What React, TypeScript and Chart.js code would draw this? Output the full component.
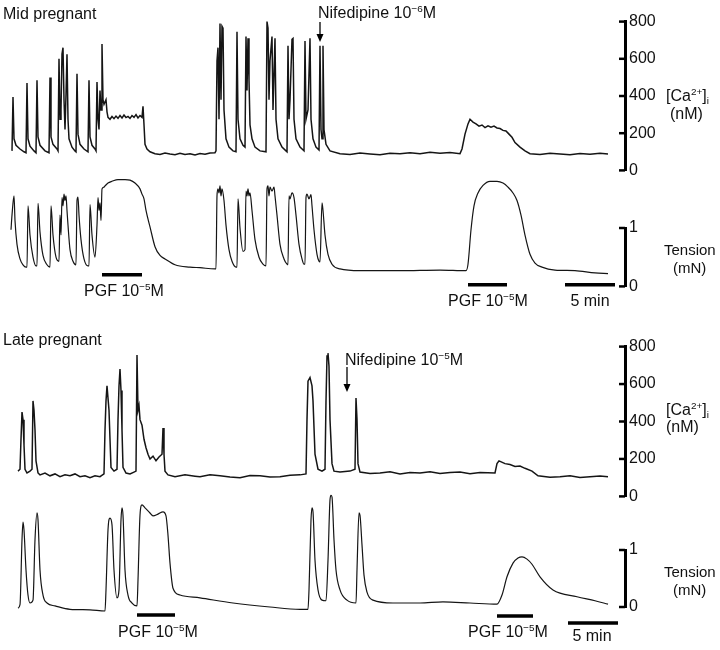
import React, { useEffect, useRef } from "react";
import { Chart, registerables } from "chart.js";

Chart.register(...registerables);

type P = [number, number];

// ---- Mid pregnant: [Ca2+]i (nM) vs time (min)
const midCa: P[] = [
  [0.2, 105], [0.3, 395], [0.4, 170], [0.6, 135], [1.0, 115], [1.4, 100], [1.6, 95],
  [1.7, 470], [1.8, 170], [2.0, 130], [2.4, 105], [2.6, 95],
  [2.7, 485], [2.8, 180], [3.0, 135], [3.5, 105], [3.9, 95],
  [4.0, 500], [4.1, 180], [4.3, 140], [4.7, 115], [4.8, 105],
  [4.9, 600], [5.0, 275], [5.1, 325], [5.2, 625], [5.3, 660], [5.4, 380], [5.5, 220], [5.6, 405], [5.7, 625], [5.8, 275], [5.9, 170], [6.2, 125], [6.5, 105], [6.6, 100],
  [6.7, 520], [6.8, 195], [7.0, 140], [7.4, 115], [7.8, 100],
  [7.9, 485], [8.0, 180], [8.2, 135], [8.5, 115], [8.6, 105],
  [8.7, 475], [8.8, 275], [8.9, 220], [9.0, 430], [9.1, 325], [9.2, 680], [9.3, 380], [9.4, 355], [9.6, 380], [9.7, 315],
  [9.8, 285], [10.0, 275], [10.2, 290], [10.4, 278], [10.6, 292], [10.8, 280], [11.0, 295], [11.2, 282], [11.4, 298], [11.6, 284],
  [11.8, 290], [12.0, 280], [12.2, 295], [12.4, 285], [12.6, 300], [12.8, 282], [13.0, 295], [13.2, 285], [13.3, 345], [13.4, 245],
  [13.5, 140], [13.7, 115], [14.0, 100], [14.5, 90], [15.0, 85], [15.5, 93], [16.0, 88], [16.5, 84], [17.0, 92], [17.5, 86],
  [18.0, 90], [18.5, 83], [19.0, 91], [19.5, 87], [20.0, 94], [20.5, 95],
  [20.6, 105], [20.7, 590], [20.8, 660], [20.9, 275], [21.0, 790], [21.1, 380], [21.2, 775], [21.3, 765], [21.4, 325], [21.6, 170], [21.9, 125], [22.3, 105], [22.6, 100],
  [22.7, 745], [22.8, 275], [23.0, 170], [23.3, 135], [23.5, 125], [23.6, 720], [23.7, 430], [23.8, 710], [23.9, 485], [24.0, 245], [24.2, 170], [24.5, 125], [25.0, 105], [25.6, 100],
  [25.7, 800], [25.8, 765], [25.9, 380], [26.0, 590], [26.2, 720], [26.3, 325], [26.5, 710], [26.6, 275], [26.8, 170], [27.2, 125], [27.6, 105], [27.7, 100],
  [27.8, 670], [27.9, 275], [28.0, 380], [28.2, 705], [28.3, 710], [28.4, 275], [28.6, 170], [29.0, 125], [29.4, 105],
  [29.5, 695], [29.6, 275], [29.8, 325], [30.0, 710], [30.1, 275], [30.3, 170], [30.6, 125], [30.9, 110],
  [31.0, 670], [31.1, 220], [31.2, 170], [31.3, 670], [31.4, 220], [31.6, 140], [32.0, 105],
  [33.0, 90], [34.0, 86], [35.0, 93], [36.0, 88], [37.0, 84], [38.0, 92], [39.0, 89], [40.0, 95], [41.0, 90], [42.0, 97],
  [43.0, 92], [44.0, 96], [45.0, 90], [45.2, 115], [45.5, 195], [45.8, 250], [46.0, 275], [46.3, 260], [46.6, 250],
  [46.9, 238], [47.2, 244], [47.5, 230], [47.8, 240], [48.1, 232], [48.4, 238], [48.7, 228], [49.0, 225], [49.3, 215],
  [49.6, 212], [49.9, 195], [50.2, 178], [50.5, 150], [51.0, 125], [51.5, 105], [52.0, 90], [53.0, 85], [54.0, 92],
  [55.0, 88], [56.0, 84], [57.0, 91], [58.0, 87], [59.0, 92], [59.8, 88],
];

// ---- Mid pregnant: tension (mN) vs time (min)
const midTension: P[] = [
  [0.1, 0.97], [0.2, 1.22], [0.4, 1.55], [0.5, 1.13], [0.7, 0.72], [1.0, 0.47], [1.3, 0.37], [1.6, 0.33],
  [1.7, 0.33], [1.8, 1.38], [2.0, 0.88], [2.3, 0.5], [2.6, 0.35],
  [2.7, 0.35], [2.8, 1.42], [3.0, 0.93], [3.3, 0.53], [3.7, 0.37], [4.0, 0.33],
  [4.1, 1.38], [4.3, 0.88], [4.6, 0.5], [4.9, 0.43], [5.0, 1.22], [5.1, 0.88], [5.2, 1.52], [5.3, 1.38], [5.4, 1.58],
  [5.5, 1.47], [5.6, 1.55], [5.7, 1.3], [5.8, 1.05], [6.0, 0.63], [6.3, 0.43], [6.6, 0.37],
  [6.7, 1.47], [6.8, 1.53], [6.9, 1.22], [7.1, 0.8], [7.4, 0.47], [7.8, 0.35],
  [7.9, 0.35], [8.0, 1.4], [8.2, 0.88], [8.5, 0.5], [8.7, 1.05], [8.8, 1.52], [8.9, 1.3], [9.0, 1.43], [9.1, 1.13],
  [9.2, 1.67], [9.4, 1.7], [9.5, 1.72], [9.8, 1.77], [10.2, 1.8], [10.8, 1.83], [11.5, 1.83], [12.0, 1.82], [12.5, 1.77],
  [13.0, 1.67], [13.2, 1.58], [13.4, 1.5], [13.6, 1.3], [14.0, 1.02], [14.5, 0.68], [15.0, 0.53], [15.5, 0.47],
  [16.5, 0.37], [18.0, 0.33], [19.0, 0.32], [20.5, 0.3],
  [20.6, 0.3], [20.7, 1.55], [20.8, 1.67], [20.9, 1.6], [21.0, 1.72], [21.1, 1.55], [21.2, 1.67], [21.4, 1.47],
  [21.6, 1.05], [21.9, 0.63], [22.2, 0.43], [22.6, 0.33],
  [22.7, 0.33], [22.8, 1.5], [23.0, 1.0], [23.3, 0.6], [23.5, 0.63], [23.6, 1.63], [23.7, 1.55], [23.8, 1.67], [23.9, 1.55],
  [24.0, 1.6], [24.2, 1.3], [24.5, 0.8], [24.9, 0.5], [25.3, 0.38], [25.6, 0.35],
  [25.7, 1.67], [25.8, 1.72], [25.9, 1.55], [26.0, 1.7], [26.2, 1.63], [26.4, 1.7], [26.5, 1.55], [26.7, 1.22],
  [27.0, 0.72], [27.4, 0.47], [27.7, 0.38],
  [27.8, 0.37], [27.9, 1.55], [28.0, 1.5], [28.2, 1.6], [28.4, 1.52], [28.6, 1.22], [28.9, 0.72], [29.2, 0.47], [29.4, 0.38],
  [29.5, 0.38], [29.6, 1.52], [29.7, 1.58], [29.9, 1.5], [30.1, 1.57], [30.2, 1.38], [30.4, 0.97], [30.7, 0.55], [30.9, 0.43],
  [31.0, 0.42], [31.2, 1.43], [31.3, 1.3], [31.5, 0.88], [31.8, 0.55], [32.2, 0.38], [33.0, 0.3],
  [35.0, 0.27], [39.0, 0.27], [43.0, 0.28], [45.6, 0.27],
  [45.8, 0.38], [46.1, 0.97], [46.4, 1.38], [46.8, 1.6], [47.3, 1.73], [48.0, 1.8], [48.7, 1.8], [49.3, 1.77], [49.8, 1.7],
  [50.3, 1.6], [50.7, 1.47], [51.1, 1.22], [51.5, 0.88], [52.0, 0.55], [52.5, 0.4], [53.2, 0.33], [54.5, 0.28],
  [56.5, 0.27], [58.5, 0.23], [59.8, 0.22],
];

// ---- Late pregnant: [Ca2+]i (nM) vs time (min)
const lateCa: P[] = [
  [0.8, 135], [1.0, 145], [1.1, 305], [1.2, 450], [1.3, 410], [1.4, 275], [1.5, 145], [1.7, 125], [2.0, 135], [2.2, 145],
  [2.3, 510], [2.4, 460], [2.5, 355], [2.6, 190], [2.8, 125], [3.0, 115], [3.5, 125], [4.0, 110], [4.5, 120], [5.0, 105],
  [5.5, 115], [6.0, 110], [6.5, 120], [7.0, 105], [7.5, 110], [8.0, 100], [8.5, 110], [9.0, 105], [9.4, 120],
  [9.5, 355], [9.6, 510], [9.7, 590], [9.8, 525], [9.9, 460], [10.0, 305], [10.1, 155], [10.4, 135], [10.7, 145],
  [10.8, 410], [10.9, 590], [11.0, 680], [11.1, 565], [11.2, 355], [11.3, 155], [11.6, 125], [12.0, 120], [12.4, 130], [12.6, 135],
  [12.7, 755], [12.8, 460], [12.9, 485], [13.0, 410], [13.2, 380], [13.4, 305], [13.6, 260], [13.8, 225], [14.0, 200],
  [14.3, 215], [14.6, 190], [14.9, 210], [15.2, 225], [15.3, 365], [15.4, 225], [15.5, 135], [15.8, 115],
  [16.5, 105], [17.5, 115], [18.5, 108], [19.0, 105], [20.0, 116], [21.0, 110], [22.0, 104], [23.0, 100], [24.0, 112],
  [25.0, 110], [26.0, 104], [27.0, 105], [28.0, 113], [29.0, 115], [29.6, 120],
  [29.7, 410], [29.8, 615], [30.0, 635], [30.2, 590], [30.3, 510], [30.5, 225], [30.8, 145], [31.2, 135], [31.5, 145],
  [31.6, 510], [31.7, 750], [31.8, 765], [31.9, 695], [32.0, 410], [32.2, 175], [32.4, 135], [33.0, 130], [34.0, 135], [34.5, 145],
  [34.6, 525], [34.7, 410], [34.8, 175], [35.0, 130], [36.0, 122], [37.0, 125], [38.0, 131], [39.0, 120], [40.0, 128],
  [41.0, 125], [42.0, 132], [43.0, 122], [44.0, 127], [45.0, 130], [46.0, 121], [47.0, 128], [48.5, 125],
  [48.7, 175], [48.9, 190], [49.5, 175], [50.0, 170], [50.5, 160], [51.0, 162], [51.5, 150], [52.2, 135], [52.8, 110],
  [54.0, 102], [55.0, 105], [56.0, 110], [57.0, 101], [58.0, 105], [59.0, 109], [59.8, 105],
];

// ---- Late pregnant: tension (mN) vs time (min)
const lateTension: P[] = [
  [0.8, -0.02], [1.0, 0.04], [1.2, 1.18], [1.3, 1.49], [1.4, 1.35], [1.6, 0.65], [1.8, 0.21], [2.0, 0.07],
  [2.3, 0.12], [2.5, 1.18], [2.7, 1.65], [2.8, 1.53], [3.0, 0.65], [3.3, 0.21], [3.7, 0.07], [4.5, 0.02],
  [6.0, -0.04], [8.0, -0.05], [9.5, -0.07],
  [9.6, 0.3], [9.8, 1.35], [10.0, 1.56], [10.2, 1.44], [10.4, 0.65], [10.7, 0.16], [10.9, 0.3],
  [11.1, 1.53], [11.2, 1.74], [11.3, 1.61], [11.5, 0.65], [11.8, 0.21], [12.2, 0.07], [12.7, 0.02],
  [12.8, 0.47], [13.0, 1.61], [13.2, 1.79], [13.5, 1.74], [14.0, 1.65], [14.3, 1.6], [14.8, 1.63], [15.3, 1.67],
  [15.6, 1.6], [15.8, 1.26], [16.0, 0.77], [16.3, 0.33], [17.0, 0.21], [19.0, 0.16], [22.3, 0.07], [26.0, 0.0],
  [29.0, -0.04], [29.8, -0.04],
  [29.9, 0.3], [30.1, 1.53], [30.2, 1.74], [30.3, 1.67], [30.5, 0.82], [30.8, 0.3], [31.2, 0.12], [31.6, 0.11],
  [31.8, 0.82], [32.0, 1.88], [32.1, 1.96], [32.2, 1.93], [32.4, 1.18], [32.6, 0.65], [33.0, 0.3], [33.7, 0.12], [34.6, 0.07],
  [34.7, 0.65], [34.9, 1.65], [35.0, 1.61], [35.2, 1.09], [35.4, 0.56], [35.7, 0.26], [36.3, 0.12], [38.3, 0.07],
  [41.0, 0.07], [43.3, 0.09], [46.0, 0.07], [48.7, 0.05],
  [49.2, 0.21], [49.7, 0.53], [50.3, 0.77], [50.8, 0.86], [51.2, 0.88], [51.7, 0.84], [52.2, 0.75], [53.0, 0.53],
  [54.3, 0.3], [56.7, 0.18], [58.5, 0.11], [59.8, 0.05],
];

// drug application periods (min): [start, end]
const midPgf: P[] = [[9.2, 13.2], [45.8, 49.7]];
const latePgf: P[] = [[12.7, 16.5], [48.7, 52.3]];
// 5 min calibration bar: [start, end]
const midScaleBar: P = [55.5, 60.5];
const lateScaleBar: P = [55.8, 60.8];

const caTicks = [0, 200, 400, 600, 800];
const tensionTicks = [0, 1];

const T_MIN = -1;
const T_MAX = 61.5;
const FONT = "'Liberation Sans', Arial, Helvetica, sans-serif";

const inwardTicks = {
  id: "inwardTicks",
  afterDraw(chart: any) {
    const s = chart.scales.y;
    const ctx = chart.ctx;
    ctx.save();
    ctx.strokeStyle = "#000";
    ctx.lineWidth = 2.5;
    s.ticks.forEach((t: any) => {
      const y = s.getPixelForValue(t.value);
      ctx.beginPath();
      ctx.moveTo(s.left - 6, y);
      ctx.lineTo(s.left, y);
      ctx.stroke();
    });
    ctx.restore();
  },
};

type TraceProps = {
  top: number;
  height: number;
  padTop: number;
  padBottom: number;
  data: P[];
  yMax: number;
  ticks: number[];
  smooth: boolean;
  bars: { range: P; level: number }[];
};

function Trace({ top, height, padTop, padBottom, data, yMax, ticks, smooth, bars }: TraceProps) {
  const ref = useRef<HTMLCanvasElement>(null);
  useEffect(() => {
    const datasets: any[] = [
      {
        data: data.map(([x, y]) => ({ x, y })),
        borderColor: "#151515",
        borderWidth: smooth ? 1.2 : 1.5,
        pointRadius: 0,
        clip: false,
        cubicInterpolationMode: smooth ? "monotone" : "default",
        tension: 0,
      },
    ];
    bars.forEach((b) => {
      datasets.push({
        data: [
          { x: b.range[0], y: b.level },
          { x: b.range[1], y: b.level },
        ],
        borderColor: "#000",
        borderWidth: 3.5,
        pointRadius: 0,
        clip: false,
      });
    });
    const chart = new Chart(ref.current as HTMLCanvasElement, {
      type: "line",
      data: { datasets },
      options: {
        animation: false,
        responsive: false,
        events: [],
        layout: { padding: { top: padTop, bottom: padBottom, left: 0, right: 0 } },
        plugins: { legend: { display: false }, tooltip: { enabled: false } },
        scales: {
          x: { type: "linear", min: T_MIN, max: T_MAX, display: false },
          y: {
            position: "right",
            min: 0,
            max: yMax,
            afterFit: (s: any) => {
              s.width = 95;
            },
            afterBuildTicks: (s: any) => {
              s.ticks = ticks.map((v) => ({ value: v }));
            },
            ticks: { color: "#111", padding: 4, font: { family: FONT, size: 16 } },
            grid: { drawOnChartArea: false, drawTicks: false },
            border: { display: true, color: "#000", width: 3 },
          },
        },
      } as any,
      plugins: [inwardTicks],
    });
    return () => chart.destroy();
  }, []);
  return (
    <canvas
      ref={ref}
      width={720}
      height={height}
      style={{ position: "absolute", left: 0, top, width: 720, height }}
    />
  );
}

function Label({ x, y, children, center, size = 16 }: any) {
  return (
    <div
      style={{
        position: "absolute",
        left: x,
        top: y,
        transform: center ? "translate(-50%, -50%)" : "translateY(-50%)",
        fontFamily: FONT,
        fontSize: size,
        lineHeight: "18px",
        color: "#111",
        whiteSpace: "nowrap",
      }}
    >
      {children}
    </div>
  );
}

function Arrow({ x, y1, y2 }: { x: number; y1: number; y2: number }) {
  const len = y2 - y1;
  return (
    <svg style={{ position: "absolute", left: x - 5, top: y1 }} width={10} height={len}>
      <line x1={5} y1={0} x2={5} y2={len - 6} stroke="#000" strokeWidth={1.3} />
      <polygon points={`1.5,${len - 8} 8.5,${len - 8} 5,${len}`} fill="#000" />
    </svg>
  );
}

const sup: React.CSSProperties = { fontSize: "0.62em", verticalAlign: "0.6em", lineHeight: 0 };
const sub: React.CSSProperties = { fontSize: "0.62em", verticalAlign: "-0.3em", lineHeight: 0 };

export default function App() {
  return (
    <div
      style={{
        position: "absolute",
        left: 0,
        top: 0,
        width: 720,
        height: 650,
        background: "#fff",
        overflow: "hidden",
      }}
    >
      {/* Mid pregnant */}
      <Trace top={8} height={176} padTop={12} padBottom={12} data={midCa} yMax={800} ticks={caTicks} smooth={false} bars={[]} />
      <Trace
        top={158}
        height={142}
        padTop={70}
        padBottom={12}
        data={midTension}
        yMax={1}
        ticks={tensionTicks}
        smooth={true}
        bars={[
          { range: midPgf[0], level: 0.2 },
          { range: midPgf[1], level: 0.03 },
          { range: midScaleBar, level: 0.03 },
        ]}
      />
      {/* Late pregnant */}
      <Trace top={333} height={177} padTop={12} padBottom={12} data={lateCa} yMax={800} ticks={caTicks} smooth={false} bars={[]} />
      <Trace
        top={480}
        height={147}
        padTop={70}
        padBottom={20}
        data={lateTension}
        yMax={1}
        ticks={tensionTicks}
        smooth={true}
        bars={[
          { range: latePgf[0], level: -0.14 },
          { range: latePgf[1], level: -0.16 },
          { range: lateScaleBar, level: -0.28 },
        ]}
      />

      <Label x={3} y={14}>Mid pregnant</Label>
      <Label x={318} y={13}>
        Nifedipine 10<span style={sup}>−6</span>M
      </Label>
      <Arrow x={320} y1={22} y2={42} />
      <Label x={666} y={96}>
        [Ca<span style={sup}>2+</span>]<span style={sub}>i</span>
      </Label>
      <Label x={670} y={114}>(nM)</Label>
      <Label x={664} y={250} size={15}>Tension</Label>
      <Label x={673} y={268} size={15}>(mN)</Label>
      <Label x={124} y={291} center>
        PGF 10<span style={sup}>−5</span>M
      </Label>
      <Label x={488} y={301} center>
        PGF 10<span style={sup}>−5</span>M
      </Label>
      <Label x={590} y={301} center>5 min</Label>

      <Label x={3} y={340}>Late pregnant</Label>
      <Label x={345} y={360}>
        Nifedipine 10<span style={sup}>−5</span>M
      </Label>
      <Arrow x={347} y1={367} y2={392} />
      <Label x={666} y={410}>
        [Ca<span style={sup}>2+</span>]<span style={sub}>i</span>
      </Label>
      <Label x={666} y={427}>(nM)</Label>
      <Label x={664} y={572} size={15}>Tension</Label>
      <Label x={673} y={590} size={15}>(mN)</Label>
      <Label x={158} y={632} center>
        PGF 10<span style={sup}>−5</span>M
      </Label>
      <Label x={508} y={632} center>
        PGF 10<span style={sup}>−5</span>M
      </Label>
      <Label x={592} y={636} center>5 min</Label>
    </div>
  );
}
